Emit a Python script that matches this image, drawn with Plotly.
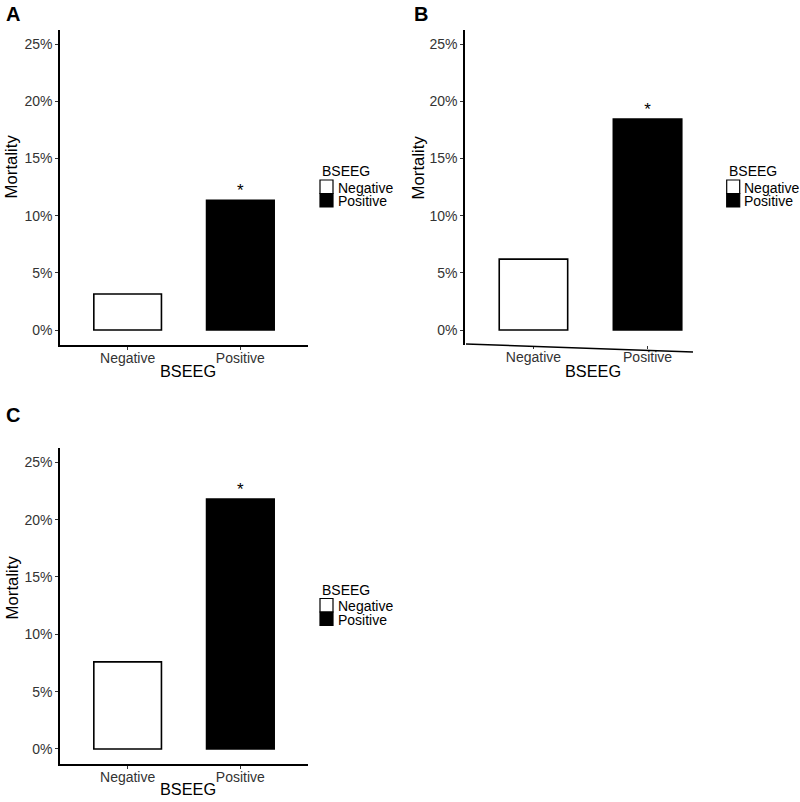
import plotly.graph_objects as go

# ---- data ----
categories = ["Negative", "Positive"]
mortality_a = [3.15, 11.35]
mortality_b = [6.2, 18.45]
mortality_c = [7.6, 21.8]
significance = ["", "*"]
y_tick_values = [0, 5, 10, 15, 20, 25]
y_tick_labels = ["0%", "5%", "10%", "15%", "20%", "25%"]
bar_fills = ["white", "black"]
legend_title = "BSEEG"
x_title = "BSEEG"
y_title = "Mortality"
panel_letters = ["A", "B", "C"]

W, H = 800, 802
FONT = "Liberation Sans, Arial, sans-serif"
TICK_COLOR = "#333333"


def px(x):
    return x / W


def py(y):
    return 1 - y / H


# layout geometry of each panel (pixel boxes)
panels = [
    dict(values=mortality_a, ax="", xd=(60, 308), yd=(30, 345),
         letter=(4, 14), ytitle=(11.5, 167), xtitle=(188, 370.5), legend=(320, 171.5)),
    dict(values=mortality_b, ax="2", xd=(465, 716), yd=(30, 345),
         letter=(412, 14), ytitle=(418.5, 167), xtitle=(593, 370.5), legend=(726.7, 171.5)),
    dict(values=mortality_c, ax="3", xd=(60, 308), yd=(448, 764),
         letter=(4, 414.5), ytitle=(11.5, 588), xtitle=(188, 788.5), legend=(320, 590)),
]

fig = go.Figure()
annotations = []
shapes = []
layout_axes = {}

for i, p in enumerate(panels):
    xa = "x" + p["ax"]
    ya = "y" + p["ax"]
    fig.add_trace(go.Bar(
        x=categories, y=p["values"], width=0.6,
        marker=dict(color=bar_fills, line=dict(color="black", width=1.6)),
        xaxis=xa, yaxis=ya, showlegend=False, hoverinfo="x+y",
    ))
    fig.add_trace(go.Scatter(
        x=categories, y=p["values"], mode="text", text=significance,
        textposition="top center",
        textfont=dict(family=FONT, size=17, color="black"),
        xaxis=xa, yaxis=ya, showlegend=False, hoverinfo="skip",
    ))
    is_b = (i == 1)
    layout_axes["xaxis" + p["ax"]] = dict(
        domain=[px(p["xd"][0]), px(p["xd"][1])],
        anchor=ya, type="category", range=[-0.6, 1.6],
        showline=not is_b, linecolor="black", linewidth=1.5,
        ticks="outside", ticklen=3, tickwidth=1, tickcolor="#333333",
        ticklabelstandoff=-4,
        showgrid=False, zeroline=False, fixedrange=True,
        tickfont=dict(family=FONT, size=14, color=TICK_COLOR),
    )
    layout_axes["yaxis" + p["ax"]] = dict(
        domain=[py(p["yd"][1]), py(p["yd"][0])],
        anchor=xa, range=[-1.31, 26.25],
        tickvals=y_tick_values, ticktext=y_tick_labels,
        showline=True, linecolor="black", linewidth=1.5,
        ticks="outside", ticklen=3, tickwidth=1, tickcolor="#333333",
        showgrid=False, zeroline=False, fixedrange=True,
        tickfont=dict(family=FONT, size=14, color=TICK_COLOR),
    )
    # panel letter
    annotations.append(dict(
        text="<b>%s</b>" % panel_letters[i], x=px(p["letter"][0]), y=py(p["letter"][1]),
        xref="paper", yref="paper", xanchor="left", yanchor="middle", showarrow=False,
        font=dict(family=FONT, size=20, color="black"),
    ))
    # axis titles
    annotations.append(dict(
        text=y_title, x=px(p["ytitle"][0]), y=py(p["ytitle"][1]), textangle=-90,
        xref="paper", yref="paper", xanchor="center", yanchor="middle", showarrow=False,
        font=dict(family=FONT, size=16.8, color="black"),
    ))
    annotations.append(dict(
        text=x_title, x=px(p["xtitle"][0]), y=py(p["xtitle"][1]),
        xref="paper", yref="paper", xanchor="center", yanchor="middle", showarrow=False,
        font=dict(family=FONT, size=16.3, color="black"),
    ))
    # legend (ggplot-style stacked keys)
    lx, ly = p["legend"]
    annotations.append(dict(
        text=legend_title, x=px(lx), y=py(ly),
        xref="paper", yref="paper", xanchor="left", yanchor="middle", showarrow=False,
        font=dict(family=FONT, size=14, color="black"),
    ))
    key_top = ly + 8.5
    key_h = 13.5
    for k, cat in enumerate(categories):
        y0 = key_top + k * key_h
        shapes.append(dict(
            type="rect", xref="paper", yref="paper",
            x0=px(lx), x1=px(lx + 13), y0=py(y0 + key_h), y1=py(y0),
            fillcolor=bar_fills[k], line=dict(color="black", width=1.2),
        ))
        annotations.append(dict(
            text=cat, x=px(lx + 15.5), y=py(y0 + key_h / 2 + 1),
            xref="paper", yref="paper", xanchor="left", yanchor="middle", showarrow=False,
            font=dict(family=FONT, size=14, color="black"),
        ))

# panel B's x axis line is drawn slightly tilted in the reference
shapes.append(dict(
    type="line", xref="paper", yref="paper",
    x0=px(466), y0=py(344), x1=px(693), y1=py(352),
    line=dict(color="black", width=1.5),
))

fig.update_layout(
    width=W, height=H,
    margin=dict(l=0, r=0, t=0, b=0),
    paper_bgcolor="white", plot_bgcolor="white",
    showlegend=False, bargap=0.4,
    annotations=annotations, shapes=shapes,
    font=dict(family=FONT),
    **layout_axes,
)

fig.write_html(
    "out.html",
    config={"displayModeBar": False},
    post_script="document.body.style.margin='0';document.body.style.overflow='hidden';",
)
